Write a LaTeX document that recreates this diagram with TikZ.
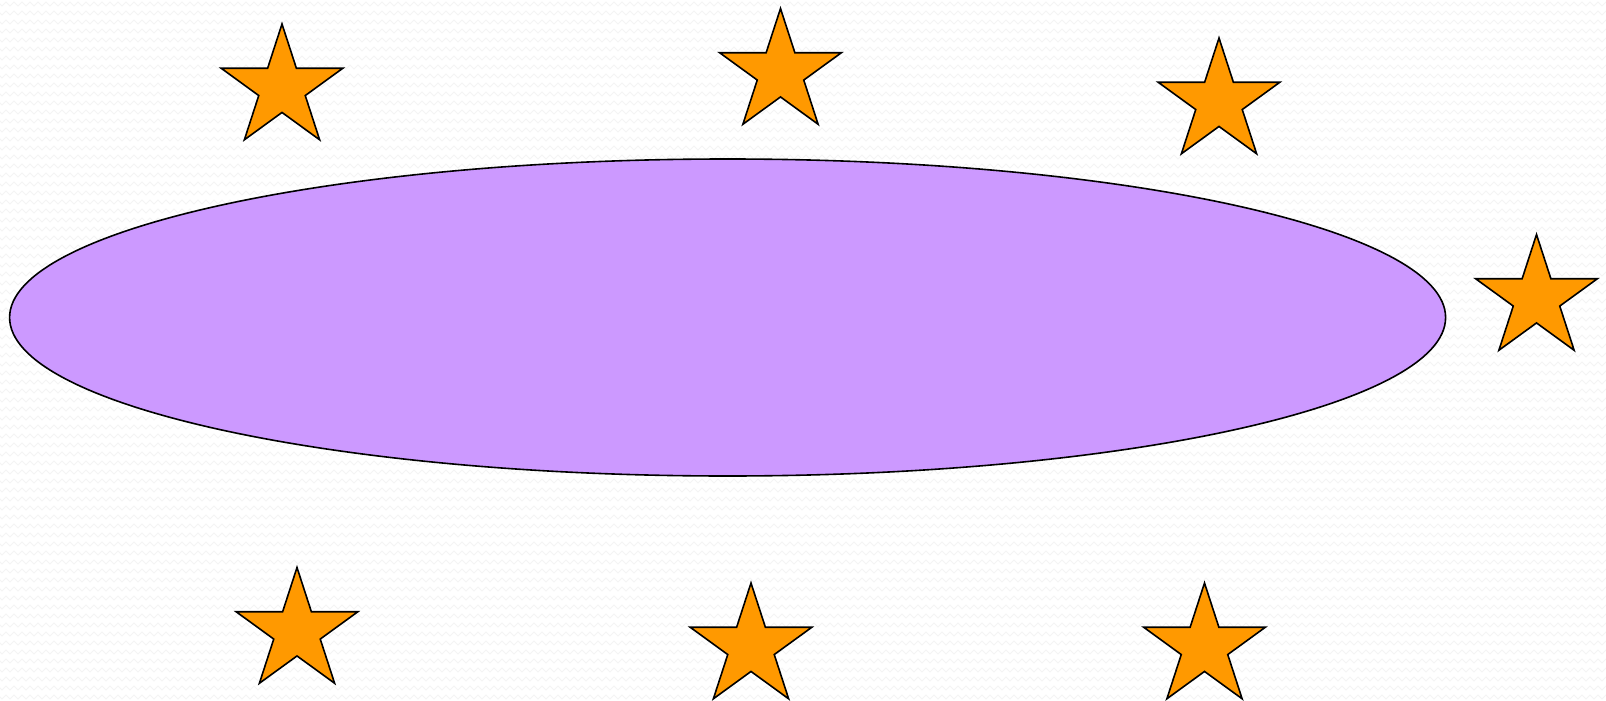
\documentclass[tikz,border=0pt]{standalone}
\usetikzlibrary{shapes.geometric,decorations.pathmorphing}
\definecolor{orangeetoile}{HTML}{FF9900}
\definecolor{violetellipse}{HTML}{CC99FF}
\tikzset{
	etoile/.style={star,star points=5,star point ratio=2.618,minimum size=128pt,inner sep=0pt,
		draw=black,line width=1.6pt,fill=orangeetoile},
	fond/.style={color=gray!9,line width=0.8pt,decorate,decoration={zigzag,segment length=8pt,amplitude=2pt}}
}
\begin{document}
\begin{tikzpicture}[x=1pt,y=-1pt]
	% Dimensions de l'image
	\def\xlrg{1606} \def\ylrg{701}
	\useasboundingbox (0,0) rectangle (\xlrg,\ylrg);
	\fill[white] (0,0) rectangle (\xlrg,\ylrg);
	%
	% Fond en zigzag
	\begin{scope}
		\clip (0,0) rectangle (\xlrg,\ylrg);
		\foreach \y in {4,13,...,705}{
			\draw[fond] (-4,\y) -- (\xlrg+8,\y);
		};
	\end{scope}
	%
	% Ellipse centrale
	\node[ellipse,draw=black,line width=1.6pt,fill=violetellipse,inner sep=0pt,
		minimum width=1436pt,minimum height=317pt] (ell) at (727.6,317.5) {};
	%
	% Etoiles
	\node[etoile] (e1) at (282,88) {};
	\node[etoile] (e2) at (780.5,72.5) {};
	\node[etoile] (e3) at (1219,102) {};
	\node[etoile] (e4) at (1536.5,298.5) {};
	\node[etoile] (e5) at (297,631.5) {};
	\node[etoile] (e6) at (751,647) {};
	\node[etoile] (e7) at (1204.5,647) {};
\end{tikzpicture}
\end{document}
